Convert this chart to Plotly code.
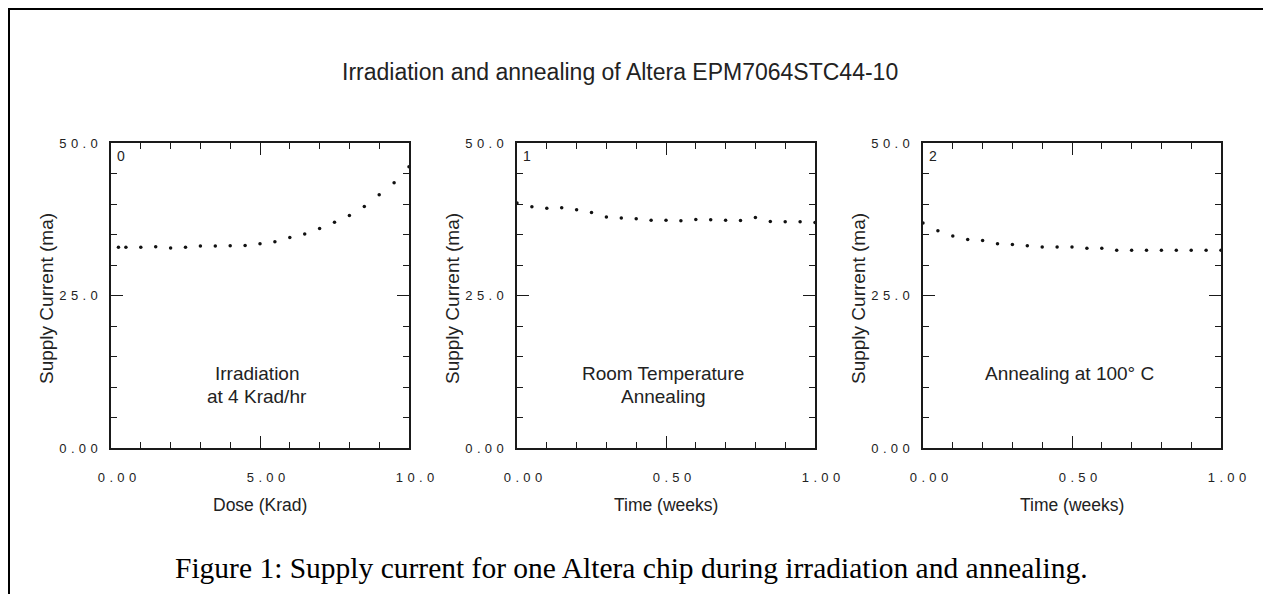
import plotly.graph_objects as go

# ---------------- data ----------------
dose_krad = [0.25, 0.5, 1.0, 1.5, 2.0, 2.5, 3.0, 3.5, 4.0, 4.5, 5.0, 5.5, 6.0,
             6.5, 7.0, 7.5, 8.0, 8.5, 9.0, 9.5, 10.0]
irr_current = [32.9, 32.9, 32.9, 33.0, 32.8, 32.9, 33.1, 33.1, 33.15, 33.2, 33.5,
               33.8, 34.5, 35.1, 36.0, 37.0, 38.1, 39.6, 41.5, 43.5, 46.1]

time_weeks = [0.0, 0.05, 0.10, 0.15, 0.20, 0.25, 0.30, 0.35, 0.40, 0.45, 0.50,
              0.55, 0.60, 0.65, 0.70, 0.75, 0.80, 0.85, 0.90, 0.95, 1.00]
room_current = [40.15, 39.55, 39.3, 39.4, 39.05, 38.6, 37.85, 37.7, 37.6, 37.35,
                37.35, 37.25, 37.45, 37.4, 37.35, 37.3, 37.8, 37.15, 37.1, 37.1, 36.95]
hot_current = [36.9, 35.6, 34.75, 34.2, 34.0, 33.5, 33.35, 33.15, 32.95, 32.95,
               32.95, 32.75, 32.75, 32.4, 32.4, 32.4, 32.4, 32.4, 32.4, 32.4, 32.4]

panel_ids = ["0", "1", "2"]
x_titles = ["Dose (Krad)", "Time (weeks)", "Time (weeks)"]
y_title = "Supply Current (ma)"
notes = [["Irradiation", "at 4 Krad/hr"], ["Room Temperature", "Annealing"], ["Annealing at 100° C"]]

x_ranges = [[0, 10], [0, 1], [0, 1]]
x_tickvals = [[0, 5, 10], [0, 0.5, 1.0], [0, 0.5, 1.0]]
x_ticklabels = [["0.00", "5.00", "10.0"], ["0.00", "0.50", "1.00"], ["0.00", "0.50", "1.00"]]
x_minor = [1, 0.1, 0.1]
y_tickvals = [0, 25, 50]
y_ticklabels = ["0.00", "25.0", "50.0"]

title_text = "Irradiation and annealing of Altera EPM7064STC44-10"
caption_text = "Figure 1: Supply current for one Altera chip during irradiation and annealing."

# ---------------- layout helpers ----------------
W, H = 1271, 594
OFF = 8  # page body margin offset
SP = "\u2004"


def fx(px):
    return (px - OFF) / W


def fy(py):
    return 1 - (py - OFF) / H


def spaced(s):
    return SP.join(list(s))


lefts = [111, 517, 923]
width_px = 298
top_px, bot_px = 143, 448
ydom = [fy(bot_px), fy(top_px)]

series = [(dose_krad, irr_current), (time_weeks, room_current), (time_weeks, hot_current)]

fig = go.Figure()
line_col = "#1a1a1a"
sans = "Liberation Sans, Arial, sans-serif"

layout = dict(
    width=W, height=H,
    margin=dict(l=0, r=0, t=0, b=0, autoexpand=False),
    paper_bgcolor="white", plot_bgcolor="white",
    showlegend=False,
    font=dict(family=sans, color="#222"),
)

annotations = []
for i in range(3):
    xs, ys = series[i]
    suffix = "" if i == 0 else str(i + 1)
    fig.add_trace(go.Scatter(
        x=xs, y=ys, mode="markers",
        marker=dict(size=3.5, color="#111"),
        xaxis="x" + suffix, yaxis="y" + suffix, cliponaxis=False,
    ))
    layout["xaxis" + suffix] = dict(
        domain=[fx(lefts[i]), fx(lefts[i] + width_px)], range=x_ranges[i],
        anchor="y" + suffix, automargin=False,
        showgrid=False, zeroline=False,
        showline=True, linecolor=line_col, linewidth=1.5, mirror="allticks",
        ticks="inside", ticklen=12, tickwidth=1, tickcolor=line_col,
        tickvals=x_tickvals[i], ticktext=[spaced(t) for t in x_ticklabels[i]],
        tickfont=dict(size=13, family=sans, color="#222"),
        ticklabelstandoff=17, ticklabelshift=6,
        minor=dict(dtick=x_minor[i], tick0=0, ticks="inside", ticklen=6,
                   tickwidth=1, tickcolor=line_col, showgrid=False),
        fixedrange=True,
    )
    layout["yaxis" + suffix] = dict(
        domain=ydom, range=[0, 50], anchor="x" + suffix, automargin=False,
        showgrid=False, zeroline=False,
        showline=True, linecolor=line_col, linewidth=1.5, mirror="allticks",
        ticks="inside", ticklen=12, tickwidth=1, tickcolor=line_col,
        tickvals=y_tickvals, ticktext=[spaced(t) for t in y_ticklabels],
        tickfont=dict(size=13, family=sans, color="#222"),
        ticklabelstandoff=9,
        minor=dict(dtick=5, tick0=0, ticks="inside", ticklen=6,
                   tickwidth=1, tickcolor=line_col, showgrid=False),
        fixedrange=True,
    )
    # panel number
    annotations.append(dict(
        x=fx(lefts[i] + 4), y=fy(146), xref="paper", yref="paper",
        text=panel_ids[i], showarrow=False, xanchor="left", yanchor="top",
        font=dict(size=14, family=sans, color="#222"),
    ))
    # x title
    annotations.append(dict(
        x=fx(lefts[i] + width_px / 2), y=fy(505), xref="paper", yref="paper",
        text=x_titles[i], showarrow=False, xanchor="center", yanchor="middle",
        font=dict(size=17.5, family=sans, color="#222"),
    ))
    # y title
    annotations.append(dict(
        x=fx(lefts[i] - 64), y=fy(299), xref="paper", yref="paper",
        text=y_title, showarrow=False, xanchor="center", yanchor="middle",
        textangle=-90,
        font=dict(size=19, family=sans, color="#222"),
    ))
    # inside note, one annotation per line
    for k, line in enumerate(notes[i]):
        annotations.append(dict(
            x=fx(lefts[i] + 146), y=fy(373 + 23 * k), xref="paper", yref="paper",
            text=line, showarrow=False, xanchor="center", yanchor="middle",
            font=dict(size=19, family=sans, color="#222"),
        ))

annotations.append(dict(
    x=fx(620), y=fy(72), xref="paper", yref="paper", text=title_text,
    showarrow=False, xanchor="center", yanchor="middle",
    font=dict(size=23, family=sans, color="#222"),
))
annotations.append(dict(
    x=fx(631), y=fy(568), xref="paper", yref="paper", text=caption_text,
    showarrow=False, xanchor="center", yanchor="middle",
    font=dict(size=29.5, family="Liberation Serif, Times New Roman, serif", color="#000"),
))

layout["annotations"] = annotations
layout["shapes"] = [dict(
    type="rect", xref="paper", yref="paper",
    x0=fx(9), x1=1.05, y0=-0.05, y1=fy(9),
    line=dict(color="#000", width=2), fillcolor="rgba(0,0,0,0)", layer="above",
)]

fig.update_layout(**layout)
fig.write_html("out.html")
